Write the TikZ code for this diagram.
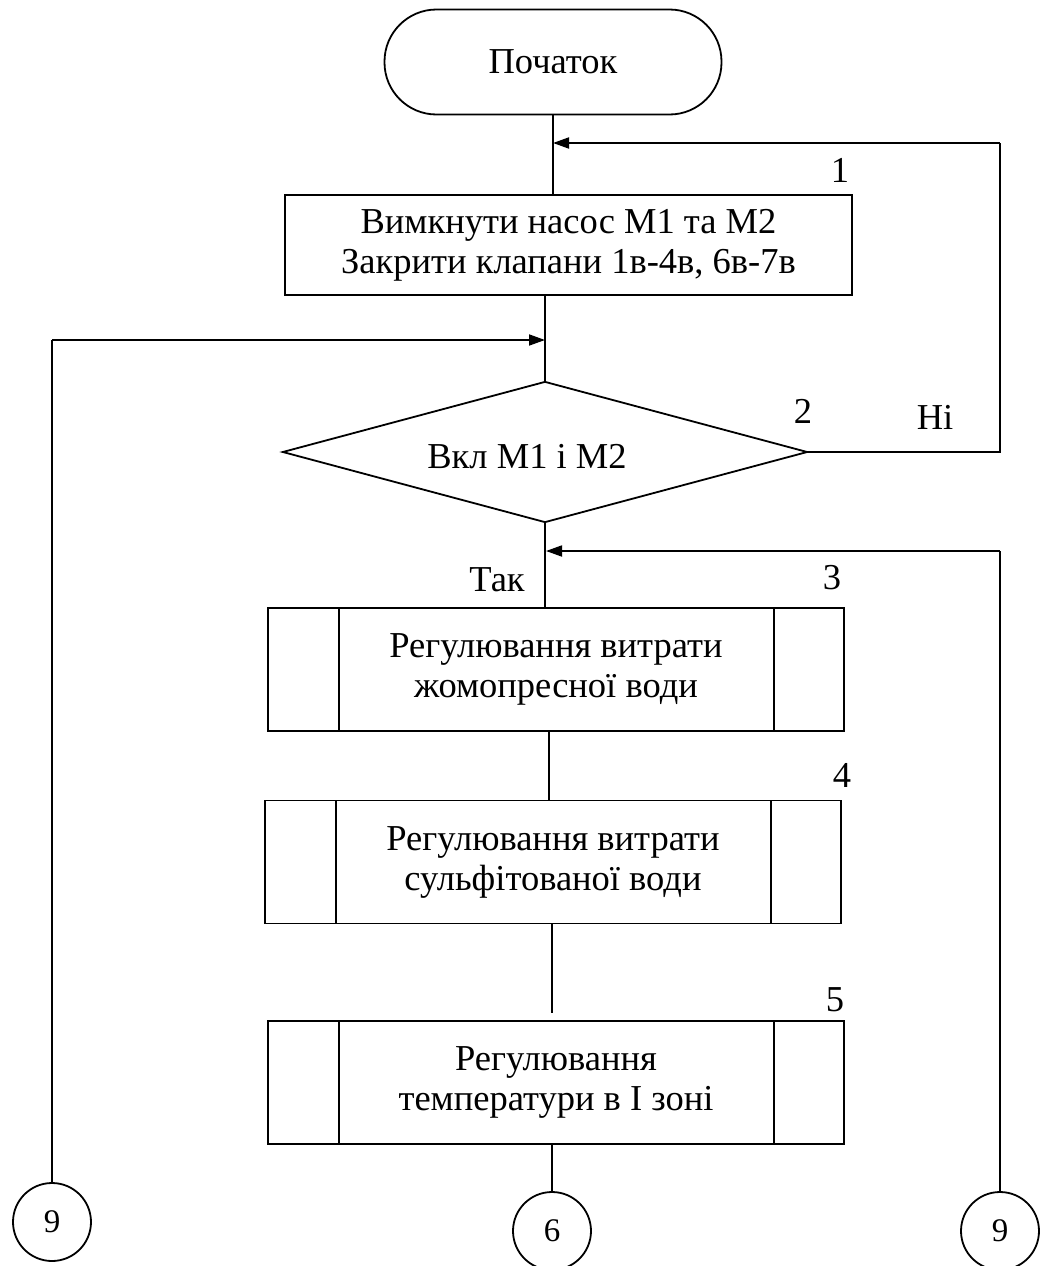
\documentclass[tikz,border=0pt]{standalone}
\usepackage{fontspec}
\setmainfont{Liberation Serif}
\usetikzlibrary{arrows.meta,shapes.geometric}
\begin{document}
\begin{tikzpicture}[x=1pt,y=-1pt,
  every node/.style={font=\fontsize{36.5}{40}\selectfont},
  ln/.style={line width=1.8pt},
  arr/.style={ln,-{Triangle[length=16pt,width=11pt]}},
  term/.style={draw,ln,rounded corners=52pt,minimum width=337pt,minimum height=105pt,inner sep=0pt},
  procbox/.style={draw,ln,minimum width=567pt,minimum height=100pt,align=center,inner sep=0pt},
  decis/.style={draw,ln,diamond,aspect=3.72,minimum width=525pt,minimum height=141pt,inner sep=0pt},
  pbox/.style={draw,ln,minimum width=576pt,minimum height=123pt,align=center,inner sep=0pt,
    path picture={
      \draw[ln] ([xshift=71pt]path picture bounding box.north west) -- ([xshift=71pt]path picture bounding box.south west);
      \draw[ln] ([xshift=-70pt]path picture bounding box.north east) -- ([xshift=-70pt]path picture bounding box.south east);
    }},
  conn/.style={draw,ln,circle,minimum size=78pt,inner sep=0pt,font=\fontsize{33}{36}\selectfont},
  lbl/.style={inner sep=0pt}
]
\clip (0,0) rectangle (1041,1266);
\fill[white] (0,0) rectangle (1041,1266);

\node[term] (start) at (553,62) {Початок};
\node[procbox] (b1) at (568.5,245) {Вимкнути насос М1 та М2\\Закрити клапани 1в-4в, 6в-7в};
\node[decis] (d2) at (545,452) {};
\node[lbl] (d2t) at (527,457) {Вкл М1 і М2};
\node[pbox] (b3) at (556,669.5) {Регулювання витрати\\жомопресної води};
\node[pbox] (b4) at (553,862) {Регулювання витрати\\сульфітованої води};
\node[pbox] (b5) at (556,1082.5) {Регулювання\\температури в І зоні};

\node[conn] (c9l) at (52,1222) {9};
\node[conn] (c6) at (552,1231) {6};
\node[conn] (c9r) at (1000,1231) {9};

\node[lbl] (n1) at (840,170) {1};
\node[lbl] (n2) at (803,411) {2};
\node[lbl] (no) at (935,417) {Ні};
\node[lbl] (yes) at (497,580) {Так};
\node[lbl] (n3) at (832,578) {3};
\node[lbl] (n4) at (842,775) {4};
\node[lbl] (n5) at (835,1000) {5};

% main flow
\draw[ln] (start.south) -- (start.south |- b1.north);
\draw[ln] (d2.north |- b1.south) -- (d2.north);
\draw[ln] (d2.south) -- (d2.south |- b3.north);
\draw[ln] (549,0 |- b3.south) -- (549,0 |- b4.north);
\coordinate (g1) at (552,1013);
\draw[ln] (552,0 |- b4.south) -- (g1);
\draw[ln] (c6.north |- b5.south) -- (c6.north);

% No loop
\coordinate (rtop) at (1000,143);
\coordinate (rbot) at (1000,452);
\draw[ln] (d2.east) -- (rbot) -- (rtop);
\coordinate (a1) at (553,143);
\draw[arr] (rtop) -- (a1);

% left loop from connector 9
\coordinate (lt) at (52,340);
\coordinate (a2) at (545,340);
\draw[ln] (c9l.north) -- (lt);
\draw[arr] (lt) -- (a2);

% right loop from connector 9
\coordinate (rt) at (1000,551);
\coordinate (a3) at (546,551);
\draw[ln] (c9r.north) -- (rt);
\draw[arr] (rt) -- (a3);
\end{tikzpicture}
\end{document}
